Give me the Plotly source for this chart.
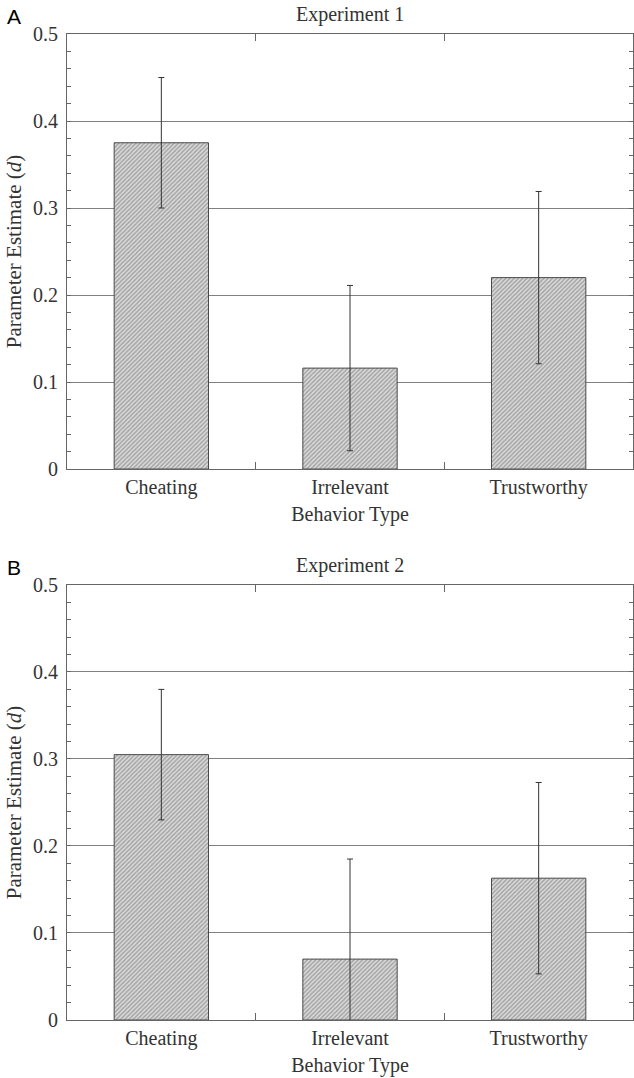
import plotly.graph_objects as go

categories = ["Cheating", "Irrelevant", "Trustworthy"]
exp1_values = [0.375, 0.116, 0.220]
exp1_errors = [0.075, 0.095, 0.099]
exp2_values = [0.305, 0.070, 0.163]
exp2_errors = [0.075, 0.115, 0.110]
panel_titles = ["Experiment 1", "Experiment 2"]
panel_letters = ["A", "B"]
y_ticks = [0, 0.1, 0.2, 0.3, 0.4, 0.5]
y_tick_labels = ["0", "0.1", "0.2", "0.3", "0.4", "0.5"]

SERIF = "Liberation Serif, Times New Roman, serif"
TXT = "#333333"
AX = "#666666"

fig = go.Figure()

def bar(vals, errs, xa, ya):
    return go.Bar(
        x=categories, y=vals, xaxis=xa, yaxis=ya, width=0.5,
        marker=dict(
            color="#d8d8d8",
            line=dict(color="#4a4a4a", width=1),
            pattern=dict(shape="/", fgcolor="#6a6a6a", bgcolor="#dcdcdc",
                         size=3, solidity=0.5),
        ),
        error_y=dict(type="data", array=errs, visible=True,
                     color="#333333", thickness=1, width=3),
        showlegend=False, hoverinfo="skip",
    )

fig.add_trace(bar(exp1_values, exp1_errors, "x", "y"))
fig.add_trace(bar(exp2_values, exp2_errors, "x2", "y2"))

top_dom = [0.5588, 1.0]
bot_dom = [0.0, 0.4412]

def xaxis(anchor):
    return dict(
        type="category", range=[-0.5, 2.5], anchor=anchor, automargin=False,
        showline=True, linecolor=AX, linewidth=1, mirror="ticks",
        ticks="inside", tickson="boundaries", ticklen=7, tickcolor=AX,
        showgrid=False,
        tickfont=dict(family=SERIF, size=20, color=TXT),
        title=dict(text="Behavior Type", font=dict(family=SERIF, size=20, color=TXT),
                   standoff=8),
    )

def yaxis(dom, anchor):
    return dict(
        domain=dom, anchor=anchor, range=[0, 0.5], automargin=False,
        tickvals=y_ticks, ticktext=y_tick_labels,
        showline=True, linecolor=AX, linewidth=1, mirror="ticks",
        ticks="inside", ticklen=4, tickcolor=AX,
        minor=dict(dtick=0.02, tick0=0, ticks="inside", ticklen=4, tickcolor=AX),
        showgrid=True, gridcolor="#808080", gridwidth=1, zeroline=False,
        tickfont=dict(family=SERIF, size=20, color=TXT),
        ticklabelstandoff=4,
        title=dict(text="Parameter Estimate (<i>d</i>)",
                   font=dict(family=SERIF, size=21, color=TXT), standoff=5),
    )

fig.update_layout(
    width=634, height=1078, autosize=False,
    margin=dict(l=67, r=1, t=34, b=58),
    paper_bgcolor="white", plot_bgcolor="white",
    xaxis=xaxis("y"), yaxis=yaxis(top_dom, "x"),
    xaxis2=xaxis("y2"), yaxis2=yaxis(bot_dom, "x2"),
    bargap=0.5,
)

for dom, title, letter in zip([top_dom, bot_dom], panel_titles, panel_letters):
    fig.add_annotation(text=title, xref="paper", yref="paper", x=0.5, y=dom[1],
                       xanchor="center", yanchor="bottom", yshift=6, showarrow=False,
                       font=dict(family=SERIF, size=20, color=TXT))
    fig.add_annotation(text=letter, xref="paper", yref="paper", x=0, y=dom[1],
                       xanchor="left", yanchor="bottom", xshift=-62, yshift=4,
                       showarrow=False,
                       font=dict(family="Liberation Sans, Arial, sans-serif", size=21,
                                 color="black"))

post = ("document.body.style.margin='0';document.body.style.overflow='hidden';"
        "var gd=document.getElementById('{plot_id}');"
        "Plotly.relayout(gd,{width:634,height:1078});")

fig.write_html("out.html", config={"responsive": False, "displayModeBar": False},
               post_script=post)
